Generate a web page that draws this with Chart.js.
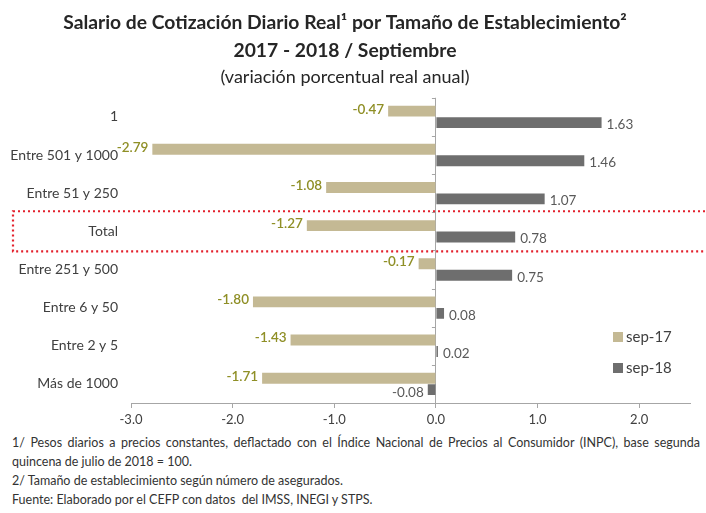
<!DOCTYPE html>
<html>
<head>
<meta charset="utf-8">
<script src="https://cdn.jsdelivr.net/npm/chart.js@4/dist/chart.umd.min.js"></script>
<style>
  html, body { margin: 0; padding: 0; background: #fff; }
  #wrap { position: relative; width: 706px; height: 513px; overflow: hidden; }
  #c { position: absolute; left: 0; top: 0; }
  #notes { position: absolute; left: 12px; top: 433px; width: 688px; font-family: Lato, "Open Sans", sans-serif; font-size: 12.5px; color: #333333; line-height: 19px; }
  #notes .j { text-align: justify; text-align-last: justify; white-space: nowrap; }
</style>
</head>
<body>
<div id="wrap">
  <canvas id="c" width="706" height="430"></canvas>
  <div id="notes">
    <div class="j">1/ Pesos diarios a precios constantes, deflactado con el Índice Nacional de Precios al Consumidor (INPC), base segunda</div>
    <div>quincena de julio de 2018 = 100.</div>
    <div>2/ Tamaño de establecimiento según número de asegurados.</div>
    <div>Fuente: Elaborado por el CEFP con datos &nbsp;del IMSS, INEGI y STPS.</div>
  </div>
</div>
<script>
const categories = ["1", "Entre 501 y 1000", "Entre 51 y 250", "Total", "Entre 251 y 500", "Entre 6 y 50", "Entre 2 y 5", "Más de 1000"];
const seriesNames = ["sep-17", "sep-18"];
const sep17 = [-0.47, -2.79, -1.08, -1.27, -0.17, -1.80, -1.43, -1.71];
const sep18 = [1.63, 1.46, 1.07, 0.78, 0.75, 0.08, 0.02, -0.08];
const xTicks = [-3, -2, -1, 0, 1, 2];
const highlightCategory = "Total";

const FONT = "Lato, 'Open Sans', sans-serif";
const colors17 = "#c4b994";
const colors18 = "#6e6e6e";
const label17 = "#8f8f26";
const label18 = "#595959";

const valueLabels = {
  id: "valueLabels",
  afterDatasetsDraw(chart) {
    const ctx = chart.ctx;
    ctx.save();
    ctx.textBaseline = "middle";
    chart.data.datasets.forEach((ds, di) => {
      const meta = chart.getDatasetMeta(di);
      ctx.font = (di === 0 ? "600 " : "") + "13.5px " + FONT;
      meta.data.forEach((el, i) => {
        const v = ds.data[i];
        const txt = v.toFixed(2);
        ctx.fillStyle = di === 0 ? label17 : label18;
        if (v < 0) {
          ctx.textAlign = "right";
          ctx.fillText(txt, Math.min(el.x, el.base) - 4, el.y + (di === 0 ? -2 : 3));
        } else {
          ctx.textAlign = "left";
          ctx.fillText(txt, Math.max(el.x, el.base) + 5, el.y + 2);
        }
      });
    });
    ctx.restore();
  }
};

const decorations = {
  id: "decorations",
  afterDraw(chart) {
    const ctx = chart.ctx;
    const x = chart.scales.x, y = chart.scales.y;
    const x0 = x.getPixelForValue(0);
    ctx.save();
    ctx.strokeStyle = "#a6a6a6";
    ctx.lineWidth = 1;
    for (let i = 0; i <= categories.length; i++) {
      const yy = Math.round(y.getPixelForValue(i - 0.5)) + 0.5;
      ctx.beginPath();
      ctx.moveTo(x0 - 4, yy);
      ctx.lineTo(x0, yy);
      ctx.stroke();
    }
    const idx = categories.indexOf(highlightCategory);
    const top = y.getPixelForValue(idx - 0.5) - 1;
    const bot = y.getPixelForValue(idx + 0.5) + 1;
    ctx.strokeStyle = "#e3202c";
    ctx.lineWidth = 2.2;
    ctx.setLineDash([2, 3]);
    ctx.strokeRect(13, top, 720, bot - top);
    ctx.setLineDash([]);
    ctx.font = "15px " + FONT;
    ctx.textAlign = "left";
    ctx.textBaseline = "middle";
    const lx = 613, ly = [337, 368];
    [colors17, colors18].forEach((c, i) => {
      ctx.fillStyle = c;
      ctx.fillRect(lx, ly[i] - 5, 10, 10);
      ctx.fillStyle = "#404040";
      ctx.fillText(seriesNames[i], lx + 13, ly[i]);
    });
    ctx.restore();
  }
};

new Chart(document.getElementById("c"), {
  type: "bar",
  data: {
    labels: categories,
    datasets: [
      { label: seriesNames[0], data: sep17, backgroundColor: colors17, categoryPercentage: 0.6, barPercentage: 0.95 },
      { label: seriesNames[1], data: sep18, backgroundColor: colors18, categoryPercentage: 0.6, barPercentage: 0.95 }
    ]
  },
  options: {
    indexAxis: "y",
    responsive: false,
    animation: false,
    layout: { padding: { left: 0, right: 16, top: 0, bottom: 0 } },
    plugins: {
      legend: { display: false },
      tooltip: { enabled: false },
      title: {
        display: true,
        text: ["Salario de Cotización Diario Real¹ por Tamaño de Establecimiento²", "2017 - 2018 / Septiembre"],
        font: { family: FONT, size: 19.3, weight: "bold", lineHeight: 1.43 },
        color: "#262626",
        padding: { top: 9, bottom: 2 }
      },
      subtitle: {
        display: true,
        text: "(variación porcentual real anual)",
        font: { family: FONT, size: 18, weight: "normal", lineHeight: 1.2 },
        color: "#262626",
        padding: { top: 0, bottom: 10 }
      }
    },
    scales: {
      x: {
        type: "linear",
        min: -3,
        max: 2.5,
        afterBuildTicks: (s) => { s.ticks = xTicks.map(v => ({ value: v })); },
        afterFit: (s) => { s.height = 27; },
        ticks: {
          font: { family: FONT, size: 13 },
          color: "#404040",
          padding: 4,
          callback: (v) => Number(v).toFixed(1)
        },
        grid: {
          color: (c) => (c.tick && c.tick.value === 0 ? "#a6a6a6" : "rgba(0,0,0,0)"),
          tickColor: "#a6a6a6",
          tickLength: 5,
          drawTicks: true
        },
        border: { display: true, color: "#a6a6a6" }
      },
      y: {
        afterFit: (s) => { s.width = 131; },
        ticks: {
          font: { family: FONT, size: 14 },
          color: "#404040",
          padding: 13,
          autoSkip: false
        },
        grid: { display: false, drawTicks: false },
        border: { display: false }
      }
    }
  },
  plugins: [valueLabels, decorations]
});
</script>
</body>
</html>
